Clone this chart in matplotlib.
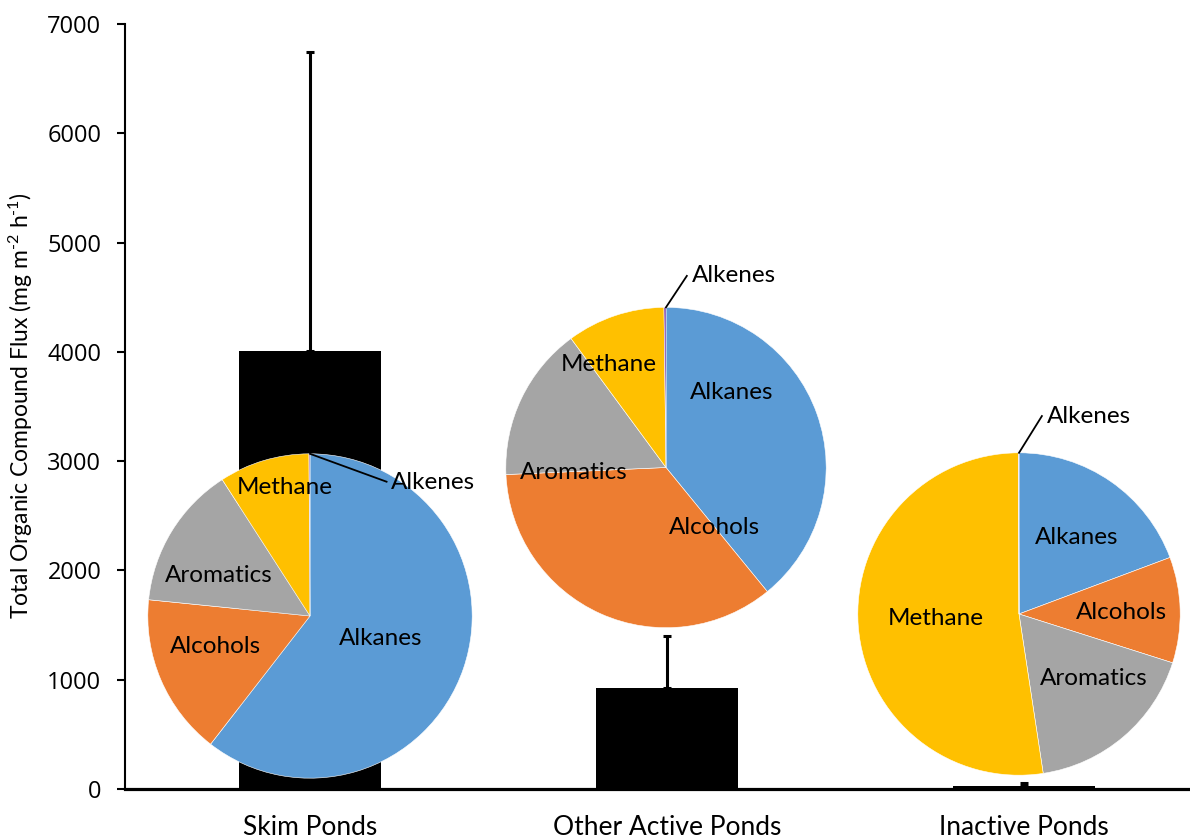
import matplotlib
matplotlib.use("Agg")
import matplotlib.pyplot as plt

# ---------------- data ----------------
categories = ["Skim Ponds", "Other Active Ponds", "Inactive Ponds"]
flux_mean = [4010, 920, 25]
flux_err_upper = [2730, 480, 30]

compounds = ["Alkanes", "Alcohols", "Aromatics", "Methane", "Alkenes"]
pie_skim = [60.5, 16.1, 14.3, 9.0, 0.1]
pie_other = [39.1, 35.2, 15.6, 9.9, 0.2]
pie_inactive = [19.3, 10.6, 17.7, 52.35, 0.05]

yticks = [0, 1000, 2000, 3000, 4000, 5000, 6000, 7000]
ylabel = r"Total Organic Compound Flux (mg m$^{\text{-2}}$ h$^{\text{-1}}$)"

# ---------------- style ----------------
slice_colors = ["#5B9BD5", "#ED7D31", "#A5A5A5", "#FFC000", "#7030A0"]
label_font = "Lato"
plt.rcParams["mathtext.fontset"] = "custom"
plt.rcParams["mathtext.rm"] = "Lato"
plt.rcParams["mathtext.it"] = "Lato"

W, H = 1190, 839
fig = plt.figure(figsize=(W / 100, H / 100), dpi=100)

# main axes: left spine at x=125px, bottom at y=789px, top (7000) at y=24px
ax = fig.add_axes([125 / W, (H - 789) / H, (W - 125) / W, (789 - 24) / H])
x = list(range(len(categories)))
ax.bar(x, flux_mean, width=0.4, color="black", zorder=2)
ax.errorbar(x, flux_mean, yerr=[[0] * len(x), flux_err_upper], fmt="none",
            ecolor="black", elinewidth=2.2, capsize=3, capthick=2.2, zorder=3)
ax.set_xlim(-0.518, 2.465)
ax.set_ylim(0, 7000)
ax.set_yticks(yticks)
ax.set_yticklabels([str(v) for v in yticks], fontfamily="Open Sans", fontsize=17)
ax.set_xticks(x)
ax.set_xticklabels(categories, fontfamily=label_font, fontsize=19)
ax.tick_params(axis="x", length=0, pad=19)
ax.tick_params(axis="y", direction="out", length=6, width=1.5, pad=11)
for s in ("top", "right"):
    ax.spines[s].set_visible(False)
ax.spines["left"].set_linewidth(1.5)
ax.spines["bottom"].set_linewidth(2.3)

fig.text(21 / W, 1 - 406 / H, ylabel, rotation=90, ha="center", va="center",
         fontfamily=label_font, fontsize=16.5)


def add_pie(cx, cy, r, values, label_pos, alk_label, alk_line):
    pax = fig.add_axes([(cx - r) / W, (H - cy - r) / H, 2 * r / W, 2 * r / H])
    pax.pie(values, colors=slice_colors, startangle=90, counterclock=False,
            radius=1, wedgeprops=dict(edgecolor="white", linewidth=0.4))
    pax.set_xlim(-1.005, 1.005)
    pax.set_ylim(-1.005, 1.005)
    pax.set_aspect("equal")
    pax.axis("off")
    for name, (lx, ly) in zip(compounds[:4], label_pos):
        pax.text(lx, ly, name, ha="center", va="center",
                 fontfamily=label_font, fontsize=17.5, color="black")
    pax.plot([0, alk_line[0]], [1, alk_line[1]], color="black", lw=1.3,
             clip_on=False)
    pax.text(alk_label[0], alk_label[1], compounds[4], ha="left", va="center",
             fontfamily=label_font, fontsize=17.5, color="black")


add_pie(310, 616, 163, pie_skim,
        [(0.436, -0.141), (-0.583, -0.190), (-0.564, 0.252), (-0.153, 0.791)],
        (0.497, 0.822), (0.472, 0.828))
add_pie(666, 467.5, 161, pie_other,
        [(0.410, 0.469), (0.304, -0.376), (-0.578, -0.034), (-0.360, 0.643)],
        (0.161, 1.196), (0.130, 1.196))
add_pie(1019, 614, 162, pie_inactive,
        [(0.358, 0.475), (0.636, 0.012), (0.463, -0.401), (-0.519, -0.031)],
        (0.173, 1.228), (0.142, 1.228))

fig.savefig("out.png", dpi=100)
